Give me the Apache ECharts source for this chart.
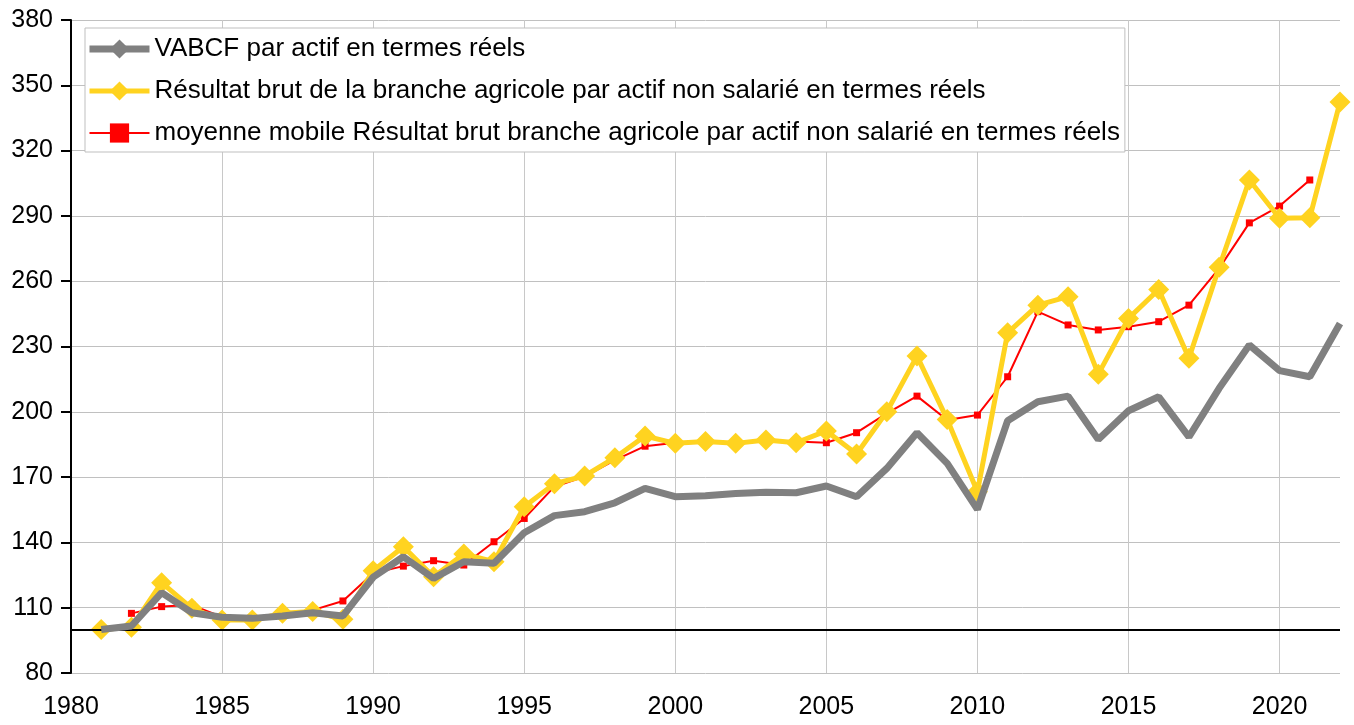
<!DOCTYPE html>
<html>
<head>
<meta charset="utf-8">
<script src="https://cdn.jsdelivr.net/npm/echarts@6/dist/echarts.min.js"></script>
<style>html,body{margin:0;padding:0;background:#fff}#c{width:1354px;height:725px}</style>
</head>
<body>
<div id="c"></div>
<script>
var years = [1981,1982,1983,1984,1985,1986,1987,1988,1989,1990,1991,1992,1993,1994,1995,1996,1997,1998,1999,2000,2001,2002,2003,2004,2005,2006,2007,2008,2009,2010,2011,2012,2013,2014,2015,2016,2017,2018,2019,2020,2021,2022];
var vabcf = [100,101.6,116.9,107.7,105.6,105.1,106.2,107.7,106.2,124,133.4,123.5,131.1,130.4,144.4,152.3,154.1,158.2,164.8,161,161.4,162.5,163,162.8,165.9,161,174,190.4,176.3,155.2,195.9,204.6,207.2,187.3,200.5,206.9,188.5,210.8,230.7,218.9,216.1,240.6];
var resultat = [100,101,121.5,109.7,104.3,104.3,107.4,108.2,104.7,127,138,124.2,134.7,131.1,156.4,167,170.5,178.9,188.9,185.5,186.3,185.5,187,185.8,191.2,180.6,200,225.6,196.5,163.3,236.3,249,252.9,217.3,242.9,256.2,224.6,266.4,306.5,288.9,289.2,342.3];
var mmYears = [1982,1983,1984,1985,1986,1987,1988,1989,1990,1991,1992,1993,1994,1995,1996,1997,1998,1999,2000,2001,2002,2003,2004,2005,2006,2007,2008,2009,2010,2011,2012,2013,2014,2015,2016,2017,2018,2019,2020,2021];
var moyenne = [107.4,110.5,111.2,105.8,105.2,106.5,108.9,113.1,125.8,129.1,131.6,129.6,140.3,151,165.6,170.2,177.8,184.2,185.8,186.3,185.5,186.8,186.3,185.8,190.4,199.3,207.2,196.2,198.5,216.1,246,239.9,237.6,239.1,241.4,249,265.9,286.8,294.5,306.5];
var xTicks = [1980,1985,1990,1995,2000,2005,2010,2015,2020];
var yTicks = [80,110,140,170,200,230,260,290,320,350,380];
var names = ["VABCF par actif en termes réels",
  "Résultat brut de la branche agricole par actif non salarié en termes réels",
  "moyenne mobile Résultat brut branche agricole par actif non salarié en termes réels"];
var baseLine = 100;

function pairs(xs, ys){ return xs.map(function(x,i){ return [x, ys[i]]; }); }

var font = "'Liberation Sans', Arial, sans-serif";
var chart = echarts.init(document.getElementById('c'), null, {renderer:'canvas'});
chart.setOption({
  animation: false,
  backgroundColor: '#fff',
  grid: {left: 71, right: 14, top: 20, bottom: 52, containLabel: false},
  legend: {
    orient: 'vertical', left: 85, top: 28,
    data: [
      {name: names[0], lineStyle: {width: 7, color: '#808080'}},
      {name: names[1], lineStyle: {width: 5, color: '#ffd320'}},
      {name: names[2], lineStyle: {width: 2, color: '#ff0000'}}
    ],
    backgroundColor: '#fff',
    borderColor: '#bfbfbf', borderWidth: 1,
    padding: [6, 5, 4, 1],
    itemWidth: 60, itemHeight: 24, itemGap: 12,
    textStyle: {fontFamily: font, fontSize: 26, color: '#000', lineHeight: 30},
    z: 10
  },
  xAxis: {
    type: 'value', min: 1980, max: 2022,
    axisLine: {show: false},
    axisTick: {show: false, customValues: xTicks},
    axisLabel: {customValues: xTicks, fontFamily: font, fontSize: 25, color: '#000', margin: 22,
      formatter: function(v){ return String(v); }},
    splitLine: {show: true, lineStyle: {color: '#c8c8c8', width: 1}}
  },
  yAxis: {
    type: 'value', min: 80, max: 380,
    axisLine: {show: true, lineStyle: {color: '#000', width: 2}},
    axisTick: {show: true, length: 10, customValues: yTicks, lineStyle: {color: '#000', width: 2}},
    axisLabel: {customValues: yTicks, fontFamily: font, fontSize: 25, color: '#000', margin: 18},
    splitLine: {show: true, lineStyle: {color: '#c0c0c0', width: 1}}
  },
  series: [
    {
      name: names[0], type: 'line', z: 5,
      data: pairs(years, vabcf),
      symbol: 'diamond', symbolSize: 16, showSymbol: false,
      lineStyle: {color: '#808080', width: 7},
      itemStyle: {color: '#808080'}
    },
    {
      name: names[1], type: 'line', z: 4,
      data: pairs(years, resultat),
      symbol: 'diamond', symbolSize: 21,
      lineStyle: {color: '#ffd320', width: 5},
      itemStyle: {color: '#ffd320'}
    },
    {
      name: names[2], type: 'line', z: 3,
      data: pairs(mmYears, moyenne),
      symbol: 'rect', symbolSize: 7,
      lineStyle: {color: '#ff0000', width: 2},
      itemStyle: {color: '#ff0000'},
      markLine: {
        silent: true, symbol: ['none','none'], label: {show: false},
        lineStyle: {color: '#000', width: 2, type: 'solid'},
        data: [{yAxis: baseLine}]
      }
    }
  ]
});
</script>
</body>
</html>
